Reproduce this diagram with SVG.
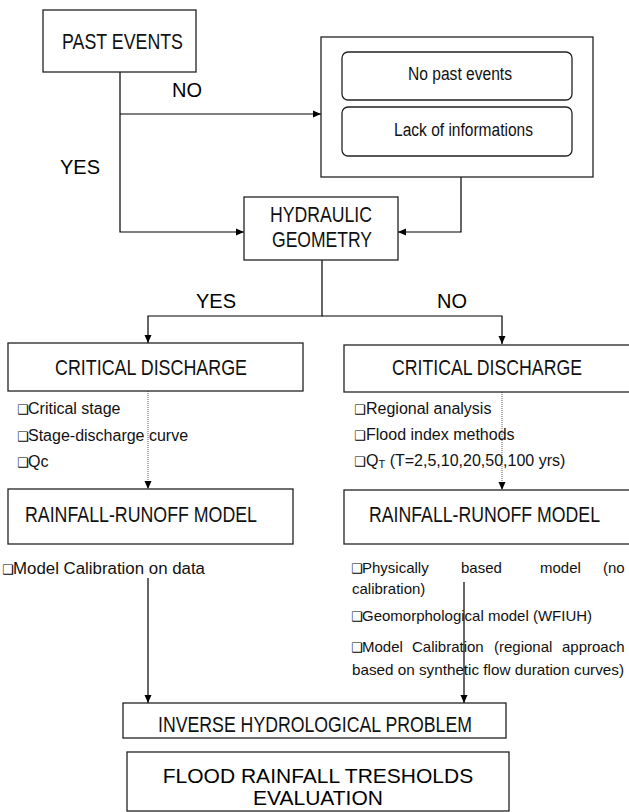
<svg xmlns="http://www.w3.org/2000/svg" width="629" height="812" viewBox="0 0 629 812">
<style>
.box{fill:#fff;stroke:#222;stroke-width:1.3}
.rbox{fill:#fff;stroke:#222;stroke-width:1.3}
.h{font-family:"Liberation Sans",Arial,sans-serif;font-size:22px;fill:#111}
.lbl{font-family:"Liberation Sans",Arial,sans-serif;font-size:20px;fill:#000}
.t{font-family:"Liberation Sans",Arial,sans-serif;font-size:16px;fill:#111}
.t2{font-family:"Liberation Sans",Arial,sans-serif;font-size:15px;fill:#111}
.bul{font-family:"DejaVu Sans",sans-serif;font-size:13px;fill:#000}
.sm{font-family:"Liberation Sans",Arial,sans-serif;font-size:18px;fill:#111}
.big{font-family:"Liberation Sans",Arial,sans-serif;font-size:21px;fill:#000}
.c{fill:none;stroke:#000;stroke-width:1.2}
.d{fill:none;stroke:#777;stroke-width:1.2;stroke-dasharray:1 1}
</style>
<defs>
<marker id="ah" markerUnits="userSpaceOnUse" markerWidth="8" markerHeight="8" refX="8" refY="4" orient="auto">
<path d="M0,0.5 L8,4 L0,7.5 z" fill="#000"/>
</marker>
</defs>

<g id="connectors">
<path class="c" d="M120,72 V232 H244" marker-end="url(#ah)"/>
<path class="c" d="M120,114 H321" marker-end="url(#ah)"/>
<path class="c" d="M461,177 V232 H398" marker-end="url(#ah)"/>
<path class="c" d="M322,260 V316 H148 V343" marker-end="url(#ah)"/>
<path class="c" d="M322,316 H502 V344" marker-end="url(#ah)"/>
<path class="d" d="M148,391 V489" marker-end="url(#ah)"/>
<path class="d" d="M502,392 V490" marker-end="url(#ah)"/>
<path class="c" d="M148,578 V703" marker-end="url(#ah)"/>
<path class="c" d="M464,582 V703" marker-end="url(#ah)"/>
<text class="lbl" x="172" y="97">NO</text>
<text class="lbl" x="60" y="174">YES</text>
<text class="lbl" x="196" y="308">YES</text>
<text class="lbl" x="437" y="308">NO</text>
</g>

<g id="past-events">
<rect class="box" x="43" y="10" width="153" height="62"/>
<text class="h" x="62" y="49" textLength="121" lengthAdjust="spacingAndGlyphs">PAST EVENTS</text>
</g>

<g id="no-data">
<rect class="box" x="321" y="37" width="272" height="140"/>
<rect class="rbox" x="342" y="52" width="230" height="48" rx="6"/>
<text class="sm" x="408" y="80" textLength="104" lengthAdjust="spacingAndGlyphs">No past events</text>
<rect class="rbox" x="342" y="107" width="230" height="49" rx="6"/>
<text class="sm" x="394" y="136" textLength="139" lengthAdjust="spacingAndGlyphs">Lack of informations</text>
</g>

<g id="hydraulic-geometry">
<rect class="box" x="244" y="197" width="154" height="63"/>
<text class="h" x="270" y="222" textLength="102" lengthAdjust="spacingAndGlyphs">HYDRAULIC</text>
<text class="h" x="272" y="247" textLength="100" lengthAdjust="spacingAndGlyphs">GEOMETRY</text>
</g>

<g id="critical-discharge-yes">
<rect class="box" x="8" y="343" width="295" height="48"/>
<text class="h" x="55" y="375" textLength="192" lengthAdjust="spacingAndGlyphs">CRITICAL DISCHARGE</text>
<text class="t" y="414"><tspan class="bul" x="17">❑</tspan><tspan x="28">Critical stage</tspan></text>
<text class="t" y="441"><tspan class="bul" x="17">❑</tspan><tspan x="28">Stage-discharge curve</tspan></text>
<text class="t" y="467"><tspan class="bul" x="17">❑</tspan><tspan x="28">Qc</tspan></text>
</g>

<g id="critical-discharge-no">
<rect class="box" x="344" y="345" width="300" height="47"/>
<text class="h" x="392" y="375" textLength="190" lengthAdjust="spacingAndGlyphs">CRITICAL DISCHARGE</text>
<text class="t" y="414"><tspan class="bul" x="354">❑</tspan><tspan x="366">Regional analysis</tspan></text>
<text class="t" y="440"><tspan class="bul" x="354">❑</tspan><tspan x="366">Flood index methods</tspan></text>
<text class="t" y="466"><tspan class="bul" x="354">❑</tspan><tspan x="366">Q</tspan><tspan font-size="11" dy="2">T</tspan><tspan dy="-2"> (T=2,5,10,20,50,100 yrs)</tspan></text>
</g>

<g id="rainfall-runoff-yes">
<rect class="box" x="8" y="489" width="285" height="55"/>
<text class="h" x="25" y="522" textLength="232" lengthAdjust="spacingAndGlyphs">RAINFALL-RUNOFF MODEL</text>
<text class="t" y="574"><tspan class="bul" x="2">❑</tspan><tspan x="13" textLength="192" lengthAdjust="spacingAndGlyphs">Model Calibration on data</tspan></text>
</g>

<g id="rainfall-runoff-no">
<rect class="box" x="344" y="490" width="300" height="54"/>
<text class="h" x="369" y="522" textLength="231" lengthAdjust="spacingAndGlyphs">RAINFALL-RUNOFF MODEL</text>
<text class="t2" y="573"><tspan class="bul" x="351">❑</tspan><tspan x="362">Physically</tspan><tspan x="461">based</tspan><tspan x="540">model</tspan><tspan x="603">(no</tspan></text>
<text class="t2" x="352" y="594">calibration)</text>
<text class="t2" y="621"><tspan class="bul" x="351">❑</tspan><tspan x="362">Geomorphological model (WFIUH)</tspan></text>
<text class="t2" y="652"><tspan class="bul" x="351">❑</tspan><tspan x="362">Model</tspan><tspan x="412">Calibration</tspan><tspan x="494">(regional</tspan><tspan x="562">approach</tspan></text>
<text class="t2" x="352" y="675" textLength="272" lengthAdjust="spacingAndGlyphs">based on synthetic flow duration curves)</text>
</g>

<g id="inverse-problem">
<rect class="box" x="123" y="703" width="383" height="35"/>
<text class="h" x="158" y="732" textLength="314" lengthAdjust="spacingAndGlyphs">INVERSE HYDROLOGICAL PROBLEM</text>
</g>

<g id="flood-thresholds">
<rect class="box" x="127" y="752" width="382" height="59"/>
<text class="big" x="318" y="783" text-anchor="middle">FLOOD RAINFALL TRESHOLDS</text>
<text class="big" x="318" y="805" text-anchor="middle">EVALUATION</text>
</g>
</svg>
